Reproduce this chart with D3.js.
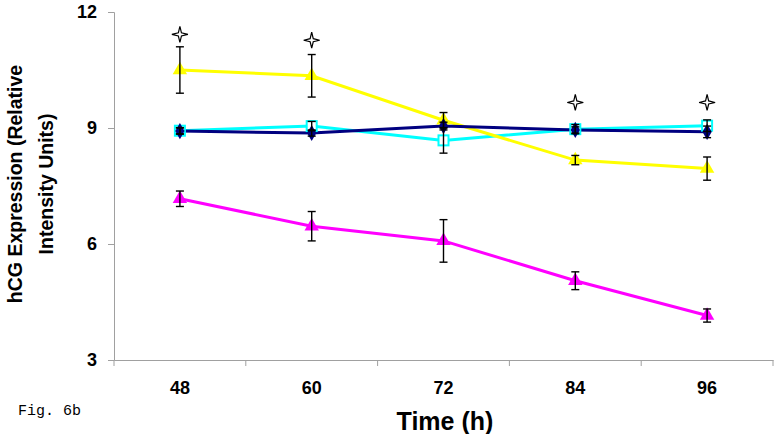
<!DOCTYPE html>
<html><head><meta charset="utf-8">
<script src="https://cdn.jsdelivr.net/npm/d3@7"></script>
<style>body{margin:0;background:#fff}svg{display:block}</style>
</head><body>
<svg id="c" width="776" height="434"></svg>
<script>
const times = ["48","60","72","84","96"];
const yTicks = [3,6,9,12];
const yellowVals = [10.5, 10.35, 9.2, 8.17, 7.95];
const yellowErr = [0.6, 0.55, 0.2, 0.12, 0.3];
const navyVals = [8.92, 8.87, 9.05, 8.95, 8.9];
const navyErr = [0.08, 0.08, 0.1, 0.08, 0.15];
const cyanVals = [8.93, 9.05, 8.68, 8.97, 9.06];
const cyanErr = [0.08, 0.12, 0.33, 0.12, 0.15];
const magentaVals = [7.17, 6.46, 6.08, 5.05, 4.15];
const magentaErr = [0.2, 0.38, 0.55, 0.23, 0.17];
const starTimes = ["48","60","84","96"];
const starVals = [11.42, 11.27, 9.66, 9.66];

const svg = d3.select("#c");
const x = d3.scaleBand().domain(times).range([114,773]);
const y = d3.scaleLinear().domain([3,12]).range([360,12]);
const cx = t => x(t) + x.bandwidth()/2;
const grey = "#a0a0a0";
const FONT = "Liberation Sans, Arial, sans-serif";

// axes
const yAxis = svg.append("g").attr("transform","translate(114,0)")
  .call(d3.axisLeft(y).tickValues(yTicks).tickSize(6).tickPadding(11).tickFormat(d3.format("d")));
yAxis.select(".domain").attr("stroke",grey);
yAxis.selectAll(".tick line").attr("stroke",grey);
yAxis.selectAll("text").attr("font-family",FONT)
  .attr("font-weight","bold").attr("font-size",18).attr("fill","#000");

const xAxis = svg.append("g").attr("transform","translate(0,360)")
  .call(d3.axisBottom(x).tickSize(0).tickPadding(21));
xAxis.select(".domain").attr("stroke",grey);
xAxis.selectAll("text").attr("font-family",FONT)
  .attr("font-weight","bold").attr("font-size",18).attr("fill","#000");
// band boundary ticks
const bounds = times.map(t => x(t)).concat([x(times[times.length-1]) + x.bandwidth()]);
svg.append("g").selectAll("line").data(bounds).join("line")
  .attr("x1",d=>d).attr("x2",d=>d).attr("y1",360).attr("y2",366).attr("stroke",grey);

const series = [
  {vals: magentaVals, err: magentaErr, color:"#FF00FF", sym:"tri"},
  {vals: cyanVals, err: cyanErr, color:"#00FFFF", sym:"sq"},
  {vals: yellowVals, err: yellowErr, color:"#FFFF00", sym:"tri"},
  {vals: navyVals, err: navyErr, color:"#000080", sym:"dia"}
];
const line = d3.line().x((d,i)=>cx(times[i])).y(d=>y(d));
series.forEach(s=>{
  svg.append("path").datum(s.vals).attr("d",line).attr("fill","none")
    .attr("stroke",s.color).attr("stroke-width",3);
});
series.forEach(s=>{
  const g = svg.append("g");
  s.vals.forEach((v,i)=>{
    const px = cx(times[i]), py = y(v);
    if (s.sym==="tri") {
      g.append("path").attr("d", d3.symbol(d3.symbolTriangle, 90)())
        .attr("transform",`translate(${px},${py})`).attr("fill",s.color);
    } else if (s.sym==="sq") {
      g.append("rect").attr("x",px-5).attr("y",py-5).attr("width",10).attr("height",10)
        .attr("fill","#fff").attr("stroke",s.color).attr("stroke-width",2);
    } else {
      g.append("path").attr("d", d3.symbol(d3.symbolDiamond, 75)())
        .attr("transform",`translate(${px},${py})`).attr("fill",s.color);
    }
  });
});
// error bars
series.forEach(s=>{
  const g = svg.append("g").attr("stroke","#000").attr("stroke-width",1.4);
  s.vals.forEach((v,i)=>{
    const px = cx(times[i]);
    const t = y(v + s.err[i]), b = y(v - s.err[i]);
    g.append("line").attr("x1",px).attr("x2",px).attr("y1",t).attr("y2",b);
    g.append("line").attr("x1",px-4).attr("x2",px+4).attr("y1",t).attr("y2",t);
    g.append("line").attr("x1",px-4).attr("x2",px+4).attr("y1",b).attr("y2",b);
  });
});
// stars
const star = (r, ri) => {
  const pts = [];
  for (let k=0;k<8;k++){
    const a = -Math.PI/2 + k*Math.PI/4;
    const rr = k%2===0 ? r : ri;
    pts.push([rr*Math.cos(a), rr*Math.sin(a)]);
  }
  return "M" + pts.map(p=>p.join(",")).join("L") + "Z";
};
svg.append("g").selectAll("path").data(starVals).join("path")
  .attr("d", star(8, 2.2))
  .attr("transform",(d,i)=>`translate(${cx(starTimes[i])},${y(d)})`)
  .attr("fill","#fff").attr("stroke","#000").attr("stroke-width",1.2);

// titles
svg.append("text").attr("x",445).attr("y",430).attr("text-anchor","middle")
  .attr("font-family",FONT).attr("font-weight","bold")
  .attr("font-size",25).text("Time (h)");
const yt = svg.append("text").attr("transform","translate(0,184) rotate(-90)")
  .attr("text-anchor","middle").attr("font-family",FONT)
  .attr("font-weight","bold").attr("font-size",19.5);
yt.append("tspan").attr("x",0).attr("y",22).text("hCG Expression (Relative");
yt.append("tspan").attr("x",0).attr("y",53).text("Intensity Units)");
svg.append("text").attr("x",18).attr("y",415)
  .attr("font-family","Liberation Mono, Courier New, monospace").attr("font-size",15)
  .text("Fig. 6b");
</script>
</body></html>
